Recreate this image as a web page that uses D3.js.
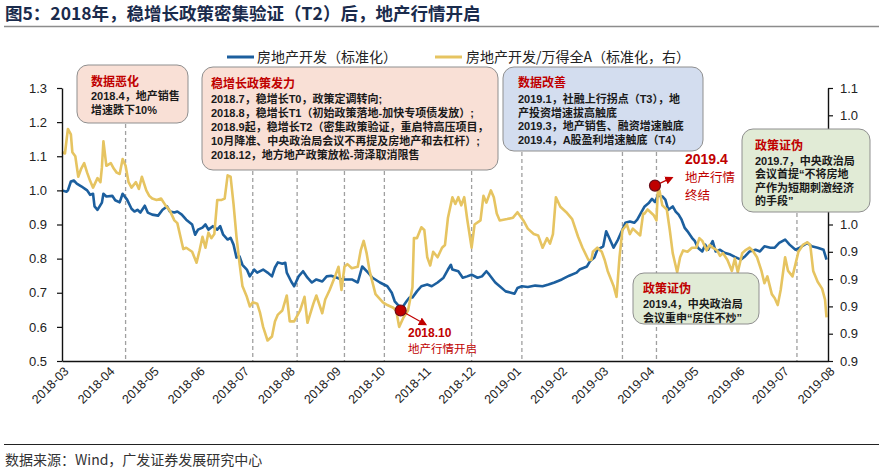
<!DOCTYPE html>
<html><head><meta charset="utf-8">
<script src="https://cdn.jsdelivr.net/npm/d3@7/dist/d3.min.js"></script>
<style>body{margin:0;background:#fff;} svg{display:block;}</style>
</head><body>
<svg id="c" width="882" height="471"></svg>
<script>
// ---------- data ----------
const monthTicks = ["2018-03","2018-04","2018-05","2018-06","2018-07","2018-08","2018-09","2018-10","2018-11","2018-12","2019-01","2019-02","2019-03","2019-04","2019-05","2019-06","2019-07","2019-08"];
const leftTicks = [0.5,0.6,0.7,0.8,0.9,1.0,1.1,1.2,1.3];
const rightTicks = [0.86,0.88,0.90,0.92,0.94,0.96,0.98,1.00,1.02,1.04,1.06];
const seriesNames = ["房地产开发（标准化）","房地产开发/万得全A（标准化，右）"];

// 房地产开发（标准化） — left axis
const blueSeries = [["2018-03-01",1.000],["2018-03-04",0.996],["2018-03-05",1.000],["2018-03-07",1.026],["2018-03-09",1.029],["2018-03-11",1.020],["2018-03-14",1.012],["2018-03-18",1.000],["2018-03-20",0.987],["2018-03-22",0.990],["2018-03-23",0.953],["2018-03-25",0.943],["2018-03-28",0.964],["2018-03-29",0.990],["2018-03-31",0.982],["2018-04-04",0.984],["2018-04-06",0.971],["2018-04-09",0.965],["2018-04-11",0.990],["2018-04-14",0.973],["2018-04-17",0.946],["2018-04-19",0.938],["2018-04-21",0.943],["2018-04-23",0.935],["2018-04-26",0.955],["2018-04-28",0.935],["2018-05-01",0.929],["2018-05-05",0.926],["2018-05-08",0.943],["2018-05-11",0.953],["2018-05-13",0.938],["2018-05-16",0.935],["2018-05-18",0.938],["2018-05-21",0.929],["2018-05-24",0.914],["2018-05-28",0.900],["2018-05-30",0.870],["2018-06-01",0.885],["2018-06-04",0.891],["2018-06-06",0.900],["2018-06-08",0.885],["2018-06-11",0.895],["2018-06-14",0.885],["2018-06-16",0.895],["2018-06-18",0.870],["2018-06-21",0.856],["2018-06-23",0.861],["2018-06-25",0.841],["2018-06-27",0.803],["2018-06-29",0.807],["2018-07-01",0.782],["2018-07-04",0.768],["2018-07-06",0.748],["2018-07-09",0.768],["2018-07-11",0.759],["2018-07-15",0.768],["2018-07-18",0.759],["2018-07-21",0.748],["2018-07-23",0.774],["2018-07-25",0.789],["2018-07-28",0.785],["2018-07-30",0.788],["2018-07-31",0.759],["2018-08-03",0.733],["2018-08-05",0.719],["2018-08-08",0.748],["2018-08-11",0.763],["2018-08-14",0.744],["2018-08-17",0.730],["2018-08-20",0.739],["2018-08-24",0.733],["2018-08-27",0.748],["2018-08-30",0.750],["2018-09-03",0.744],["2018-09-06",0.739],["2018-09-10",0.739],["2018-09-13",0.739],["2018-09-17",0.730],["2018-09-20",0.777],["2018-09-24",0.759],["2018-09-27",0.744],["2018-10-02",0.730],["2018-10-07",0.719],["2018-10-10",0.700],["2018-10-12",0.675],["2018-10-14",0.665],["2018-10-17",0.656],["2018-10-20",0.675],["2018-10-22",0.686],["2018-10-24",0.686],["2018-10-27",0.704],["2018-10-30",0.719],["2018-11-03",0.724],["2018-11-06",0.719],["2018-11-10",0.730],["2018-11-14",0.744],["2018-11-17",0.768],["2018-11-19",0.782],["2018-11-20",0.768],["2018-11-24",0.763],["2018-11-27",0.744],["2018-11-30",0.748],["2018-12-03",0.753],["2018-12-07",0.744],["2018-12-10",0.748],["2018-12-13",0.763],["2018-12-15",0.753],["2018-12-19",0.730],["2018-12-22",0.719],["2018-12-26",0.704],["2018-12-29",0.701],["2019-01-01",0.697],["2019-01-03",0.714],["2019-01-06",0.719],["2019-01-10",0.717],["2019-01-15",0.721],["2019-01-20",0.719],["2019-01-24",0.724],["2019-01-28",0.730],["2019-02-02",0.739],["2019-02-07",0.750],["2019-02-12",0.759],["2019-02-14",0.768],["2019-02-19",0.777],["2019-02-21",0.792],["2019-02-24",0.803],["2019-02-26",0.826],["2019-03-02",0.836],["2019-03-04",0.880],["2019-03-06",0.861],["2019-03-09",0.832],["2019-03-12",0.856],["2019-03-15",0.885],["2019-03-17",0.905],["2019-03-20",0.909],["2019-03-23",0.905],["2019-03-25",0.914],["2019-03-28",0.938],["2019-03-30",0.953],["2019-04-02",0.964],["2019-04-04",0.975],["2019-04-06",0.966],["2019-04-08",0.985],["2019-04-11",0.982],["2019-04-13",0.973],["2019-04-15",0.943],["2019-04-18",0.953],["2019-04-20",0.938],["2019-04-22",0.929],["2019-04-24",0.914],["2019-04-26",0.891],["2019-04-28",0.880],["2019-05-01",0.861],["2019-05-03",0.851],["2019-05-05",0.832],["2019-05-08",0.821],["2019-05-10",0.841],["2019-05-12",0.826],["2019-05-15",0.851],["2019-05-17",0.821],["2019-05-20",0.826],["2019-05-23",0.817],["2019-05-27",0.812],["2019-05-30",0.805],["2019-06-03",0.797],["2019-06-06",0.807],["2019-06-09",0.821],["2019-06-13",0.826],["2019-06-16",0.821],["2019-06-19",0.836],["2019-06-23",0.832],["2019-06-26",0.832],["2019-06-29",0.846],["2019-07-03",0.856],["2019-07-06",0.841],["2019-07-10",0.826],["2019-07-13",0.832],["2019-07-18",0.846],["2019-07-21",0.836],["2019-07-25",0.832],["2019-07-29",0.826],["2019-07-31",0.797]];

// 房地产开发/万得全A（标准化，右） — right axis
const goldSeries = [["2018-03-01",1.013],["2018-03-03",1.012],["2018-03-05",1.030],["2018-03-07",1.026],["2018-03-08",1.013],["2018-03-10",1.010],["2018-03-12",0.995],["2018-03-14",1.001],["2018-03-16",1.005],["2018-03-18",0.998],["2018-03-20",0.992],["2018-03-22",0.987],["2018-03-25",0.994],["2018-03-27",0.991],["2018-03-28",1.002],["2018-03-29",1.021],["2018-03-31",1.003],["2018-04-03",1.005],["2018-04-05",1.001],["2018-04-07",0.998],["2018-04-09",0.997],["2018-04-11",1.008],["2018-04-13",1.003],["2018-04-15",0.991],["2018-04-17",0.987],["2018-04-20",0.991],["2018-04-22",0.986],["2018-04-24",0.995],["2018-04-27",0.985],["2018-04-29",0.981],["2018-05-01",0.979],["2018-05-04",0.978],["2018-05-07",0.979],["2018-05-10",0.974],["2018-05-13",0.970],["2018-05-16",0.963],["2018-05-18",0.961],["2018-05-22",0.942],["2018-05-24",0.943],["2018-05-28",0.940],["2018-05-31",0.932],["2018-06-02",0.941],["2018-06-04",0.951],["2018-06-06",0.943],["2018-06-08",0.954],["2018-06-10",0.950],["2018-06-12",0.953],["2018-06-14",0.978],["2018-06-17",0.978],["2018-06-19",0.979],["2018-06-21",0.996],["2018-06-23",0.995],["2018-06-25",0.975],["2018-06-27",0.951],["2018-06-29",0.932],["2018-07-01",0.915],["2018-07-04",0.907],["2018-07-06",0.900],["2018-07-08",0.903],["2018-07-11",0.902],["2018-07-13",0.895],["2018-07-15",0.885],["2018-07-18",0.875],["2018-07-21",0.878],["2018-07-23",0.889],["2018-07-25",0.894],["2018-07-28",0.897],["2018-07-31",0.908],["2018-08-02",0.889],["2018-08-05",0.889],["2018-08-09",0.897],["2018-08-12",0.907],["2018-08-14",0.888],["2018-08-18",0.902],["2018-08-20",0.908],["2018-08-24",0.895],["2018-08-26",0.905],["2018-08-29",0.912],["2018-09-02",0.923],["2018-09-04",0.929],["2018-09-06",0.912],["2018-09-08",0.929],["2018-09-10",0.931],["2018-09-13",0.928],["2018-09-17",0.929],["2018-09-19",0.941],["2018-09-21",0.948],["2018-09-23",0.939],["2018-09-25",0.926],["2018-09-29",0.909],["2018-10-04",0.903],["2018-10-07",0.901],["2018-10-11",0.899],["2018-10-13",0.897],["2018-10-15",0.885],["2018-10-18",0.892],["2018-10-21",0.897],["2018-10-24",0.914],["2018-10-25",0.950],["2018-10-27",0.950],["2018-10-30",0.958],["2018-11-01",0.956],["2018-11-03",0.936],["2018-11-05",0.930],["2018-11-07",0.940],["2018-11-10",0.936],["2018-11-13",0.943],["2018-11-15",0.945],["2018-11-17",0.965],["2018-11-20",0.980],["2018-11-22",0.975],["2018-11-24",0.980],["2018-11-26",0.974],["2018-11-28",0.980],["2018-11-30",0.964],["2018-12-03",0.943],["2018-12-05",0.960],["2018-12-09",0.963],["2018-12-11",0.981],["2018-12-13",0.976],["2018-12-16",0.985],["2018-12-18",0.980],["2018-12-20",0.968],["2018-12-22",0.963],["2018-12-27",0.964],["2018-12-31",0.965],["2019-01-03",0.969],["2019-01-07",0.963],["2019-01-10",0.957],["2019-01-14",0.953],["2019-01-17",0.952],["2019-01-20",0.943],["2019-01-23",0.950],["2019-01-25",0.946],["2019-01-27",0.953],["2019-01-29",0.980],["2019-02-01",0.973],["2019-02-05",0.969],["2019-02-09",0.964],["2019-02-13",0.951],["2019-02-16",0.943],["2019-02-20",0.934],["2019-02-22",0.934],["2019-02-23",0.940],["2019-02-26",0.943],["2019-03-01",0.940],["2019-03-03",0.934],["2019-03-05",0.926],["2019-03-09",0.915],["2019-03-11",0.907],["2019-03-13",0.936],["2019-03-15",0.956],["2019-03-18",0.960],["2019-03-20",0.953],["2019-03-22",0.957],["2019-03-25",0.954],["2019-03-27",0.952],["2019-03-29",0.968],["2019-03-30",0.968],["2019-04-01",0.971],["2019-04-05",0.967],["2019-04-07",0.963],["2019-04-08",0.986],["2019-04-09",0.985],["2019-04-11",0.974],["2019-04-14",0.971],["2019-04-16",0.956],["2019-04-18",0.939],["2019-04-21",0.925],["2019-04-23",0.936],["2019-04-25",0.941],["2019-04-28",0.940],["2019-05-01",0.943],["2019-05-04",0.943],["2019-05-06",0.950],["2019-05-08",0.948],["2019-05-11",0.941],["2019-05-13",0.945],["2019-05-15",0.943],["2019-05-18",0.941],["2019-05-20",0.937],["2019-05-22",0.939],["2019-05-25",0.934],["2019-05-28",0.926],["2019-05-30",0.935],["2019-06-01",0.925],["2019-06-04",0.939],["2019-06-06",0.941],["2019-06-09",0.943],["2019-06-11",0.941],["2019-06-14",0.936],["2019-06-17",0.926],["2019-06-19",0.917],["2019-06-21",0.922],["2019-06-24",0.909],["2019-06-26",0.906],["2019-06-28",0.901],["2019-06-30",0.912],["2019-07-03",0.936],["2019-07-05",0.926],["2019-07-08",0.922],["2019-07-10",0.931],["2019-07-12",0.940],["2019-07-15",0.945],["2019-07-18",0.947],["2019-07-20",0.945],["2019-07-22",0.926],["2019-07-25",0.918],["2019-07-28",0.913],["2019-07-30",0.905],["2019-07-31",0.892]];

// event dates (dashed vertical lines)
const eventDates = ["2018-04-13","2018-07-08","2018-08-07","2018-09-08","2018-10-05","2018-12-03","2019-01-06","2019-03-15","2019-04-07","2019-07-11"];
// highlighted points (left-axis values)
const markerDates = ["2018-10-16","2019-04-06"];
const markerValues = [0.648, 1.014];
const markerLabels = [["2018.10","地产行情开启"],["2019.4","地产行情","终结"]];

// annotation boxes
const boxTitles = ["数据恶化","稳增长政策发力","数据改善","政策证伪","政策证伪"];
const boxLines = [
  ["2018.4，地产销售","增速跌下10%"],
  ["2018.7，稳增长T0，政策定调转向;","2018.8，稳增长T1（初始政策落地-加快专项债发放）;","2018.9起，稳增长T2（密集政策验证，重启特高压项目，","10月降准、中央政治局会议不再提及房地产和去杠杆）;","2018.12，地方地产政策放松-菏泽取消限售"],
  ["2019.1，社融上行拐点（T3），地","产投资增速拔高触底","2019.3，地产销售、融资增速触底","2019.4，A股盈利增速触底（T4）"],
  ["2019.7，中央政治局","会议首提“不将房地","产作为短期刺激经济","的手段”"],
  ["2019.4，中央政治局","会议重申“房住不炒”"]
];

// ---------- layout ----------
const plot = {left: 62, right: 828, top: 88, bottom: 361};
const BLUE = "#1c5f9e", GOLD = "#e6c461", RED = "#c00000";
const FONT = "'Liberation Sans','Noto Sans CJK SC',sans-serif";
const CJK = "'Noto Sans CJK SC','Liberation Sans',sans-serif";

const parse = d3.timeParse("%Y-%m-%d");
const parseM = d3.timeParse("%Y-%m");
const svg = d3.select("#c");

const x = d3.scaleTime().domain([parseM(monthTicks[0]), parseM(monthTicks[monthTicks.length-1])]).range([plot.left, plot.right]);
const yL = d3.scaleLinear().domain([leftTicks[0], leftTicks[leftTicks.length-1]]).range([plot.bottom, plot.top]);
const yR = d3.scaleLinear().domain([rightTicks[0], rightTicks[rightTicks.length-1]]).range([plot.bottom, plot.top]);

// title
svg.append("text").attr("x", 5).attr("y", 19.5).attr("font-family", CJK).attr("font-weight", 700)
  .attr("font-size", 17.5).attr("fill", "#1a2b4c").text("图5：2018年，稳增长政策密集验证（T2）后，地产行情开启");
svg.append("line").attr("x1", 4).attr("x2", 879).attr("y1", 26.5).attr("y2", 26.5).attr("stroke", "#8c8c8c").attr("stroke-width", 1.5);

// box geometry
const boxes = [
  {x: 77, y: 65, w: 111, h: 58, fill: "#f9e0d6", tx: 91, ty: 86, ly: 100, ls: 14},
  {x: 202, y: 67, w: 296, h: 103, fill: "#f9e0d6", tx: 211, ty: 88, ly: 103, ls: 14},
  {x: 503, y: 67, w: 200, h: 84, fill: "#d3ddef", tx: 518, ty: 87, ly: 103, ls: 13.7},
  {x: 742, y: 129, w: 128, h: 83, fill: "#e1ebd6", tx: 755, ty: 150, ly: 165, ls: 13.3},
  {x: 633, y: 273, w: 126, h: 51, fill: "#e1ebd6", tx: 643, ty: 293, ly: 308, ls: 13.5}
];

// dashed event lines
const gEv = svg.append("g");
eventDates.forEach(d => {
  const xv = x(parse(d));
  let top = plot.top;
  boxes.slice(0,4).forEach(b => { if (xv >= b.x && xv <= b.x + b.w) top = Math.max(top, b.y + b.h); });
  gEv.append("line").attr("x1", xv).attr("x2", xv).attr("y1", top + 1).attr("y2", plot.bottom)
    .attr("stroke", "#a0a0a0").attr("stroke-width", 1.3).attr("stroke-dasharray", "4,3");
});

// lines
const lineL = d3.line().x(d => x(parse(d[0]))).y(d => yL(d[1]));
const lineR = d3.line().x(d => x(parse(d[0]))).y(d => yR(d[1]));
svg.append("path").datum(blueSeries).attr("d", lineL).attr("fill", "none").attr("stroke", BLUE).attr("stroke-width", 2.6).attr("stroke-linejoin", "round");
svg.append("path").datum(goldSeries).attr("d", lineR).attr("fill", "none").attr("stroke", GOLD).attr("stroke-width", 2.6).attr("stroke-linejoin", "round");

// axes
const axL = svg.append("g").attr("transform", `translate(${plot.left},0)`)
  .call(d3.axisLeft(yL).tickValues(leftTicks).tickSize(5).tickPadding(10).tickSizeOuter(0).tickFormat(d3.format(".1f")));
const axR = svg.append("g").attr("transform", `translate(${plot.right},0)`)
  .call(d3.axisRight(yR).tickValues(rightTicks).tickSize(5).tickPadding(7).tickSizeOuter(0).tickFormat(d => d.toFixed(1)));
const axB = svg.append("g").attr("transform", `translate(0,${plot.bottom})`)
  .call(d3.axisBottom(x).tickValues(monthTicks.map(parseM)).tickSize(0).tickSizeOuter(0).tickFormat(d3.timeFormat("%Y-%m")));
[axL, axR, axB].forEach(a => {
  a.select(".domain").attr("stroke", "#111").attr("stroke-width", 1.4);
  a.selectAll(".tick line").attr("stroke", "#111").attr("stroke-width", 1.2);
  a.selectAll("text").attr("font-family", FONT).attr("font-size", 13).attr("fill", "#222");
});
// right-axis ticks lying under the green box are covered in the original
const cover = boxes[3];
axR.selectAll(".tick").filter(d => yR(d) > cover.y && yR(d) < cover.y + cover.h).remove();
axB.selectAll("text").attr("font-size", 12.5).attr("text-anchor", "end").attr("x", 0).attr("y", 0).attr("dy", 0)
  .attr("transform", "translate(7,11) rotate(-45)");

// boxes drawn on top
boxes.forEach((b, i) => {
  const g = svg.append("g");
  g.append("rect").attr("x", b.x).attr("y", b.y).attr("width", b.w).attr("height", b.h).attr("rx", 11).attr("ry", 11)
    .attr("fill", b.fill).attr("stroke", "#8f8f8f").attr("stroke-width", 1);
  g.append("text").attr("x", b.tx).attr("y", b.ty).attr("font-family", CJK).attr("font-weight", 700).attr("font-size", 12)
    .attr("fill", RED).text(boxTitles[i]);
  boxLines[i].forEach((t, j) => {
    g.append("text").attr("x", b.tx).attr("y", b.ly + j * b.ls).attr("font-family", FONT).attr("font-weight", 700)
      .attr("font-size", 11).attr("fill", "#1a1a1a").text(t);
  });
});

// legend
const leg = svg.append("g");
[[227, BLUE, 257], [435, GOLD, 466]].forEach((l, i) => {
  leg.append("line").attr("x1", l[0]).attr("x2", l[0] + 27).attr("y1", 57).attr("y2", 57).attr("stroke", l[1]).attr("stroke-width", 3);
  leg.append("text").attr("x", l[2]).attr("y", 62).attr("font-family", CJK).attr("font-size", 14).attr("fill", "#222").text(seriesNames[i]);
});

// markers & red annotations
const defs = svg.append("defs");
defs.append("marker").attr("id", "ah").attr("viewBox", "0 0 10 10").attr("refX", 8).attr("refY", 5)
  .attr("markerWidth", 7).attr("markerHeight", 7).attr("orient", "auto")
  .append("path").attr("d", "M0,0 L10,5 L0,10 z").attr("fill", RED);

const arrowOffsets = [[25, 14], [17, -8]];
markerDates.forEach((d, i) => {
  const cx = x(parse(d)), cy = yL(markerValues[i]);
  svg.append("line").attr("x1", cx).attr("y1", cy).attr("x2", cx + arrowOffsets[i][0]).attr("y2", cy + arrowOffsets[i][1])
    .attr("stroke", RED).attr("stroke-width", 1.2).attr("marker-end", "url(#ah)");
  svg.append("circle").attr("cx", cx).attr("cy", cy).attr("r", 5.5).attr("fill", RED).attr("stroke", "#6a0d1a").attr("stroke-width", 1.2);
});
// 2018.10 label
svg.append("text").attr("x", 408).attr("y", 337).attr("font-family", FONT).attr("font-weight", 700).attr("font-size", 12).attr("fill", RED).text(markerLabels[0][0]);
svg.append("text").attr("x", 408).attr("y", 353).attr("font-family", CJK).attr("font-size", 11.5).attr("fill", RED).text(markerLabels[0][1]);
// 2019.4 label
svg.append("text").attr("x", 685).attr("y", 164).attr("font-family", FONT).attr("font-weight", 700).attr("font-size", 14).attr("fill", RED).text(markerLabels[1][0]);
svg.append("text").attr("x", 685).attr("y", 182).attr("font-family", CJK).attr("font-size", 12.5).attr("fill", RED).text(markerLabels[1][1]);
svg.append("text").attr("x", 685).attr("y", 200).attr("font-family", CJK).attr("font-size", 12.5).attr("fill", RED).text(markerLabels[1][2]);

// footer
svg.append("line").attr("x1", 4).attr("x2", 879).attr("y1", 444.5).attr("y2", 444.5).attr("stroke", "#222").attr("stroke-width", 1);
svg.append("text").attr("x", 5).attr("y", 465).attr("font-family", CJK).attr("font-size", 14).attr("fill", "#333").text("数据来源：Wind，广发证券发展研究中心");
</script>
</body></html>
